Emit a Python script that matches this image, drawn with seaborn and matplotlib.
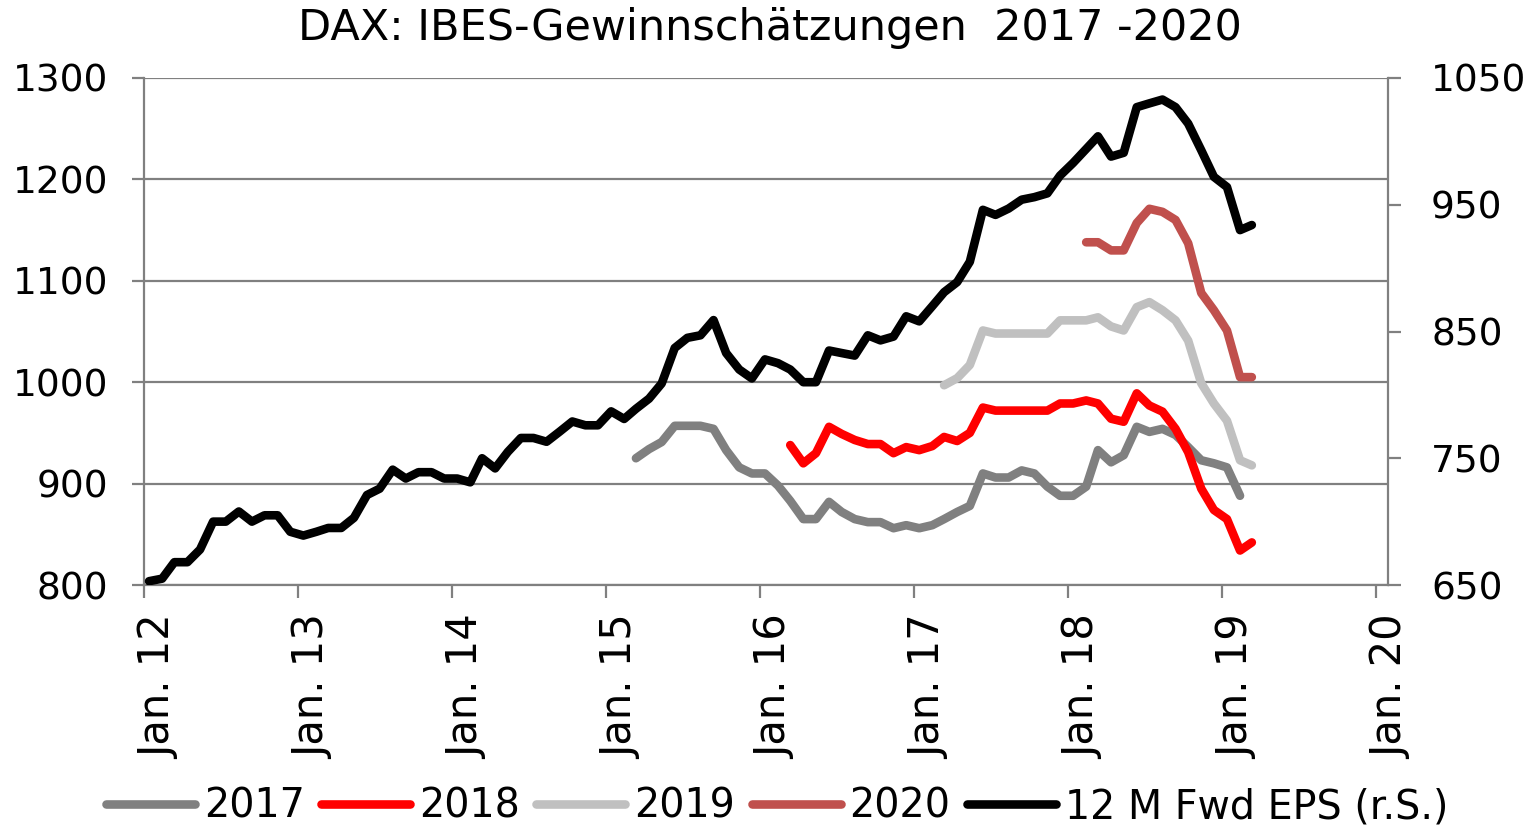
import pandas as pd
import numpy as np
import matplotlib
matplotlib.use("Agg")
import matplotlib.pyplot as plt
import matplotlib.transforms as mtransforms
import seaborn as sns

# monthly values, Jan 2012 .. Mar 2019 (87 months)
months = pd.date_range("2012-01-01", periods=87, freq="MS") + pd.Timedelta(days=12)

# 12 M Fwd EPS (right axis), full range
eps_fwd = [653, 655, 668, 668, 678, 700, 700, 708, 700, 705, 705, 692,
           689, 692, 695, 695, 703, 721, 726, 741, 734, 739, 739, 734,
           734, 731, 750, 742, 755, 766, 766, 763, 771, 779, 776, 776,
           787, 781, 789, 797, 809, 837, 845, 847, 859, 833, 820, 813,
           828, 825, 820, 810, 810, 835, 833, 831, 847, 843, 846, 862,
           858, 870, 881, 889, 905, 946, 942, 947, 954, 956, 959, 973,
           983, 994, 1004, 988, 991, 1027, 1030, 1033, 1027, 1014, 993, 972,
           964, 930, 934]

# year estimates (left axis) with first month index
start_2017 = 38
est_2017 = [925, 934, 941, 957, 957, 957, 954, 933, 916, 910,
            910, 898, 883, 865, 865, 882, 872, 865, 862, 862, 856, 859,
            856, 859, 865, 872, 878, 910, 906, 906, 913, 910, 897, 888,
            888, 897, 933, 921, 928, 956, 951, 954, 948, 936, 923, 920,
            916, 888]
start_2018 = 50
est_2018 = [938, 920, 930, 956, 949, 943, 939, 939, 930, 936,
            933, 937, 946, 942, 950, 975, 972, 972, 972, 972, 972, 979,
            979, 982, 979, 964, 961, 989, 977, 971, 954, 931, 895, 874,
            865, 834, 842]
start_2019 = 62
est_2019 = [997, 1004, 1017, 1051, 1048, 1048, 1048, 1048, 1048, 1061,
            1061, 1061, 1064, 1055, 1051, 1074, 1079, 1071, 1061, 1041, 999, 979,
            962, 923, 918]
start_2020 = 73
est_2020 = [1138, 1138, 1130, 1130, 1157, 1171, 1168, 1160, 1137, 1088, 1071,
            1051, 1005, 1005]

year_ticks = pd.date_range("2012-01-01", "2020-01-01", freq="YS")
year_labels = ["Jan. 12", "Jan. 13", "Jan. 14", "Jan. 15", "Jan. 16",
               "Jan. 17", "Jan. 18", "Jan. 19", "Jan. 20"]

sns.set_style("white")
plt.rcParams["font.family"] = ["DejaVu Sans"]
plt.rcParams["text.color"] = "black"
grey = "#808080"
fs = 27

fig = plt.figure(figsize=(15.36, 8.31), dpi=100)
ax = fig.add_axes([144/1536, 1-585/831, (1388-144)/1536, (585-78)/831])
ax2 = ax.twinx()

lw = 6.2
line_kw = dict(linewidth=lw, solid_capstyle="round", solid_joinstyle="round")
series = [(start_2017, est_2017, "#808080", "2017"),
          (start_2018, est_2018, "#FF0000", "2018"),
          (start_2019, est_2019, "#C0C0C0", "2019"),
          (start_2020, est_2020, "#C0504D", "2020")]
for s, vals, col, lab in series:
    sns.lineplot(x=months[s:s+len(vals)], y=vals, ax=ax, color=col, label=lab, **line_kw)
sns.lineplot(x=months, y=eps_fwd, ax=ax2, color="black", label="12 M Fwd EPS (r.S.)", **line_kw)

for a in (ax, ax2):
    if a.get_legend() is not None:
        a.get_legend().remove()

ax.set_ylim(800, 1300)
ax.set_yticks(range(800, 1301, 100))
ax2.set_ylim(650, 1050)
ax2.set_yticks(range(650, 1051, 100))
ax.set_xlim(pd.Timestamp("2012-01-01"), pd.Timestamp("2020-01-30"))
ax.set_xticks(year_ticks)
ax.set_xticklabels(year_labels, rotation=90, fontsize=30)
ax.set_xlabel("")
ax.set_ylabel("")
ax2.set_ylabel("")

ax.grid(axis="y", color=grey, linewidth=1.6)
ax.grid(axis="x", visible=False)
ax.set_axisbelow(True)
ax.patch.set_visible(False)

for a in (ax, ax2):
    a.spines["top"].set_visible(False)
ax.spines["right"].set_visible(False)
ax2.spines["left"].set_visible(False)
ax2.spines["bottom"].set_visible(False)
for sp in ("left", "bottom"):
    ax.spines[sp].set_color(grey)
    ax.spines[sp].set_linewidth(1.6)
ax2.spines["right"].set_color(grey)
ax2.spines["right"].set_linewidth(1.6)

ax.tick_params(axis="both", which="major", length=9, width=1.6, color=grey,
               labelcolor="black", direction="out", bottom=True, left=True)
ax.tick_params(axis="y", pad=17, labelsize=fs)
ax.tick_params(axis="x", pad=13)
ax2.tick_params(axis="y", length=9, width=1.6, color=grey, labelsize=fs,
                labelcolor="black", direction="out", right=True, pad=22)

shift = mtransforms.ScaledTranslation(0.15, 0, fig.dpi_scale_trans)
for lbl in ax.get_xticklabels():
    lbl.set_transform(lbl.get_transform() + shift)

fig.text(770/1536, 1-40/831, "DAX: IBES-Gewinnschätzungen  2017 -2020",
         ha="center", va="baseline", fontsize=31)

h1, l1 = ax.get_legend_handles_labels()
h2, l2 = ax2.get_legend_handles_labels()
fig.legend(h1 + h2, l1 + l2, loc="center", bbox_to_anchor=(777/1536, 24/831),
           ncol=5, frameon=False, fontsize=28.5, handlelength=2.25,
           handletextpad=0.22, columnspacing=0.42)

fig.savefig("out.png", dpi=100)
